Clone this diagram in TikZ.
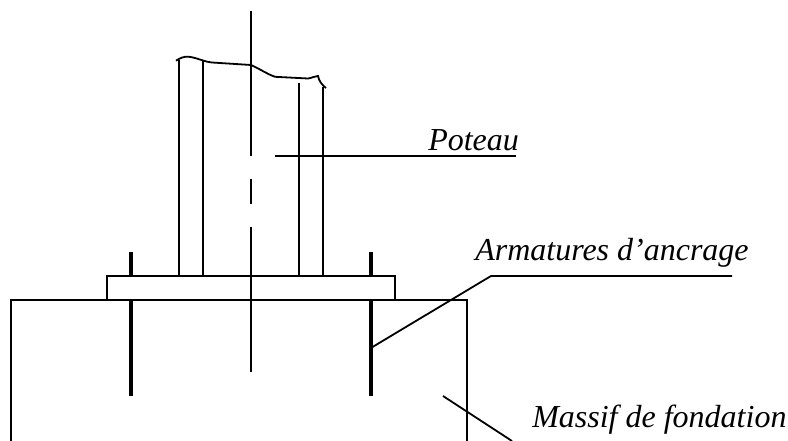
\documentclass[tikz,border=0pt]{standalone}
\usepackage{fontspec}
\setmainfont{Liberation Serif}
\tikzset{
  px/.style={x=0.75pt,y=-0.75pt},
  thin line/.style={draw=black,line width=1.35pt},
  bar/.style={draw=black,line width=3.2pt},
  lbl/.style={font=\itshape\fontsize{24pt}{28pt}\selectfont,inner sep=0pt,anchor=base west}
}
\begin{document}
\begin{tikzpicture}[px]
\useasboundingbox (0,0) rectangle (788,441);
\coordinate (cTop) at (251,11);
\coordinate (cA) at (251,156);
\coordinate (cB) at (251,372);
\draw[thin line] (11,441) -- (11,300) -- (467,300) -- (467,441);
\draw[thin line] (107,276) rectangle (395,300);
\draw[thin line] (179,60) -- (179,276);
\draw[thin line] (203,61) -- (203,276);
\draw[thin line] (299,83) -- (299,276);
\draw[thin line] (323,87) -- (323,276);
\draw[thin line] (176,60.7) .. controls (180,58) and (184,56.5) .. (188,56.7) .. controls (193,57) and (198,59) .. (203,60.5) .. controls (206,61.5) and (209,62.3) .. (212,62.5) -- (251,65) .. controls (260,69) and (267,74) .. (275,76.8) -- (308,78.5) .. controls (312,78) and (315,76) .. (318,76) .. controls (319,81) and (322,85) .. (326,88);
\draw[thin line] (cTop) -- (cA);
\draw[thin line] (251,179) -- (251,204);
\draw[thin line] (251,227) -- (cB);
\draw[bar] (131,252) -- (131,276);
\draw[bar] (131,300) -- (131,396);
\draw[bar] (371,252) -- (371,276);
\draw[bar] (371,300) -- (371,396);
\node[lbl] (poteau) at (428,151) {Poteau};
\node[lbl] (arm) at (475,261) {Armatures d’ancrage};
\node[lbl] (massif) at (532,427) {Massif de fondation};
\coordinate (pEnd) at (516,156);
\coordinate (pStart) at (275,156);
\draw[thin line] (pStart) -- (pEnd);
\coordinate (aA) at (372.5,347);
\coordinate (aB) at (491,276);
\coordinate (aC) at (732,276);
\draw[thin line] (aA) -- (aB) -- (aC);
\coordinate (mA) at (443,396);
\coordinate (mB) at (512,441);
\draw[thin line] (mA) -- (mB);
\end{tikzpicture}
\end{document}
